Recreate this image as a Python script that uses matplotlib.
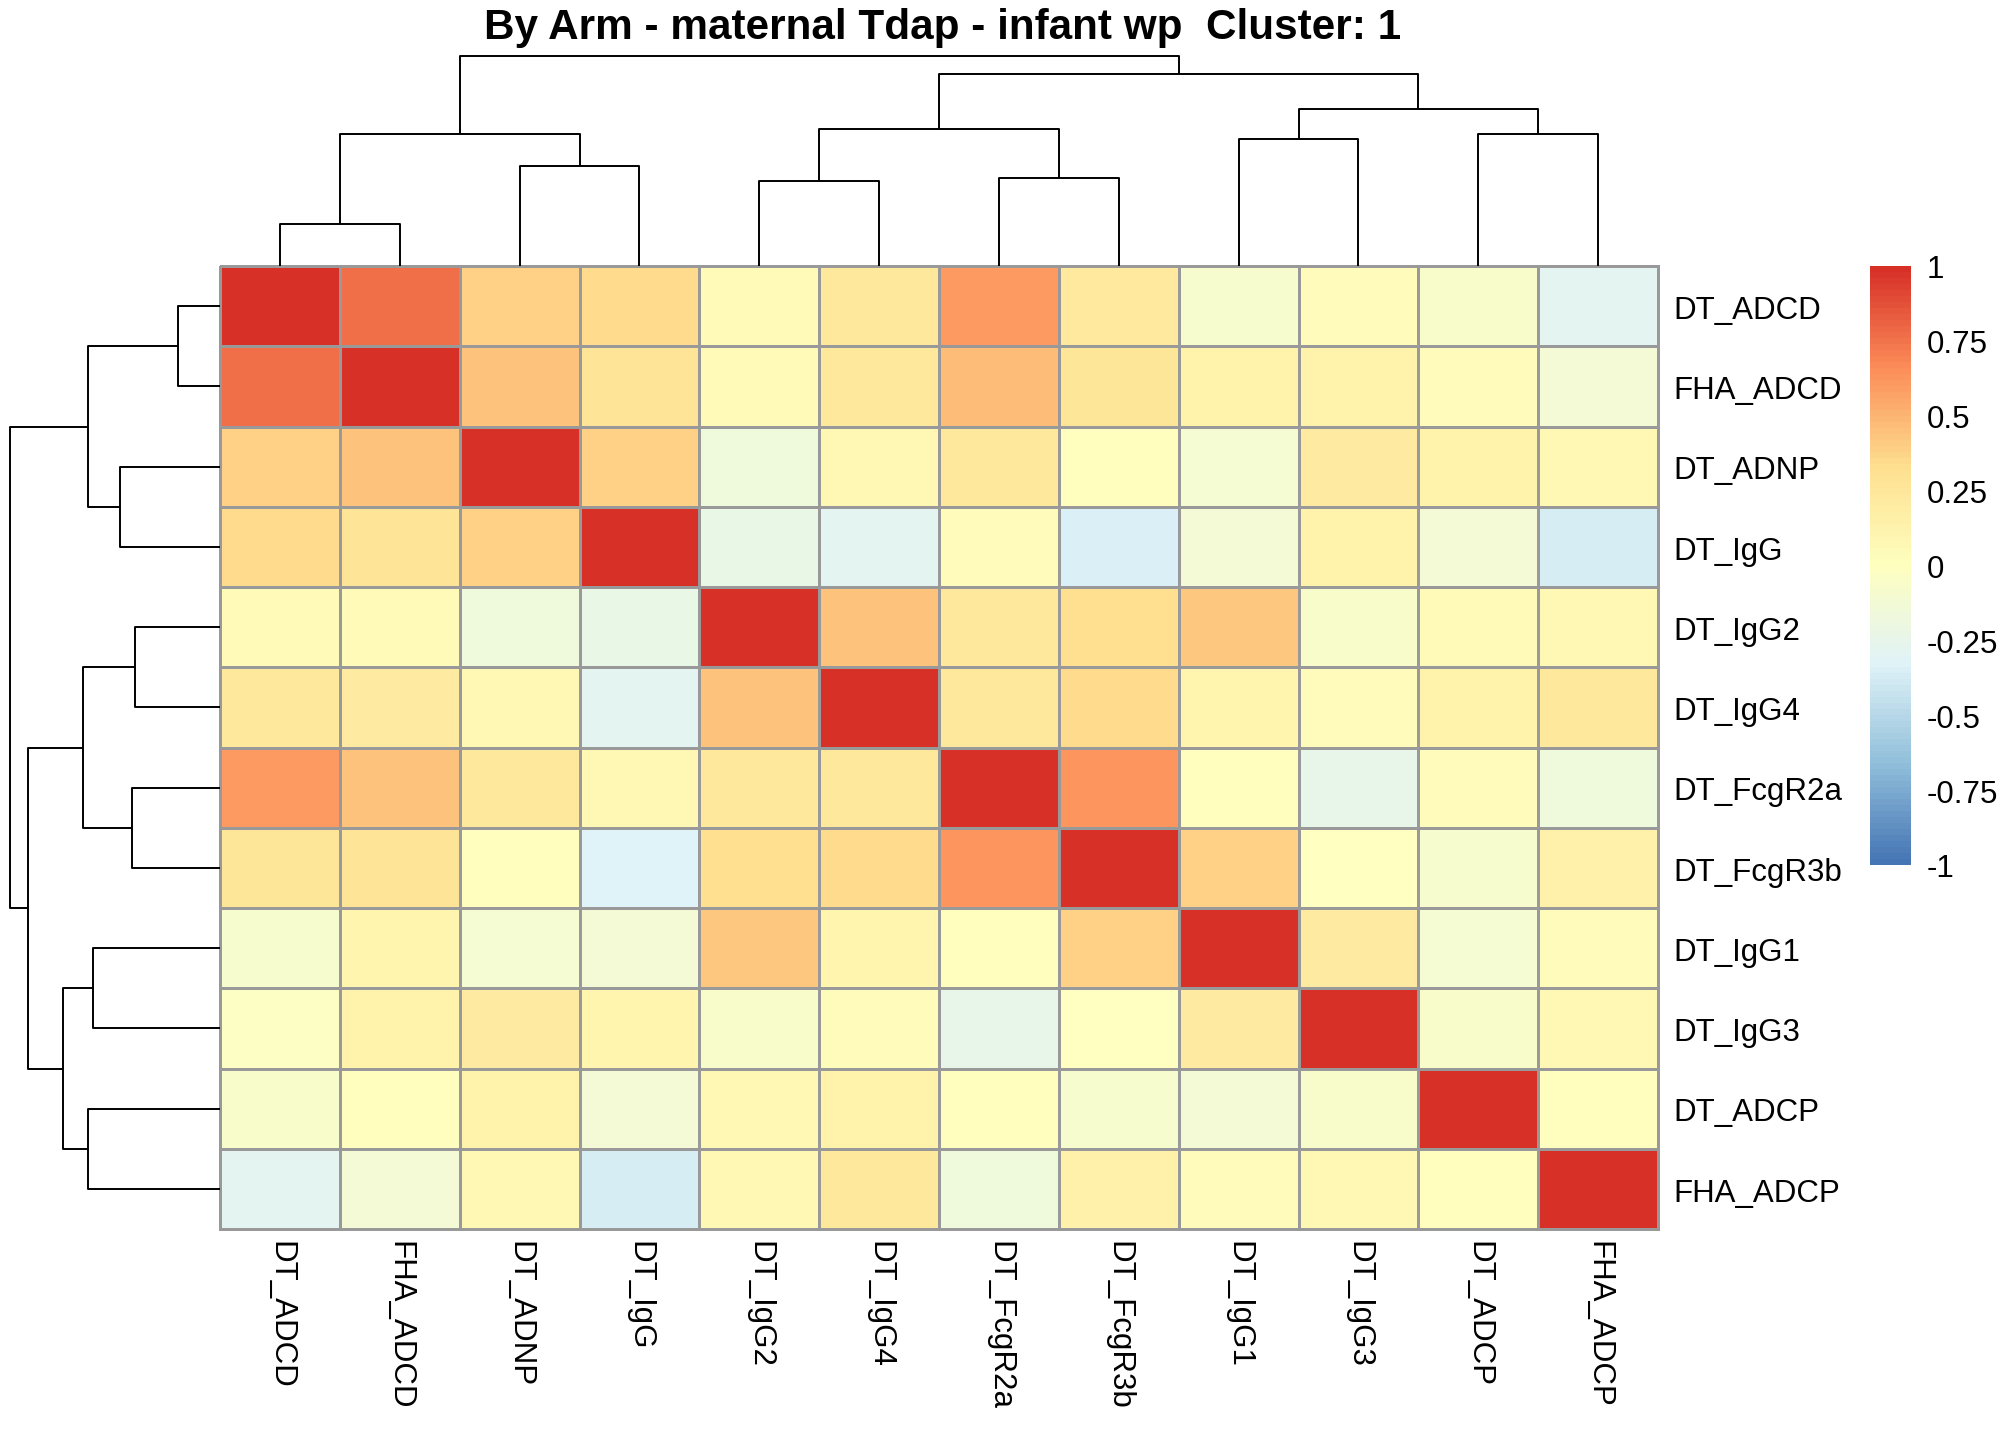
import numpy as np
import matplotlib
matplotlib.use("Agg")
import matplotlib.pyplot as plt
from matplotlib.colors import LinearSegmentedColormap

plt.rcParams['font.family'] = ['Liberation Sans', 'DejaVu Sans']

# ---------------- data ----------------
title = "By Arm - maternal Tdap - infant wp  Cluster: 1"
labels = ["DT_ADCD", "FHA_ADCD", "DT_ADNP", "DT_IgG", "DT_IgG2", "DT_IgG4",
          "DT_FcgR2a", "DT_FcgR3b", "DT_IgG1", "DT_IgG3", "DT_ADCP", "FHA_ADCP"]

row_DT_ADCD   = [1.00, 0.77, 0.39, 0.34, 0.05, 0.25, 0.61, 0.23, -0.10, 0.03, -0.08, -0.30]
row_FHA_ADCD  = [0.77, 1.00, 0.44, 0.28, 0.05, 0.25, 0.47, 0.26, 0.12, 0.12, 0.02, -0.13]
row_DT_ADNP   = [0.39, 0.44, 1.00, 0.39, -0.18, 0.06, 0.24, 0.01, -0.11, 0.20, 0.13, 0.07]
row_DT_IgG    = [0.34, 0.28, 0.39, 1.00, -0.23, -0.30, 0.03, -0.34, -0.14, 0.12, -0.14, -0.37]
row_DT_IgG2   = [0.05, 0.05, -0.18, -0.23, 1.00, 0.44, 0.24, 0.33, 0.42, -0.07, 0.05, 0.07]
row_DT_IgG4   = [0.24, 0.20, 0.06, -0.30, 0.44, 1.00, 0.24, 0.34, 0.10, 0.02, 0.12, 0.24]
row_DT_FcgR2a = [0.61, 0.45, 0.25, 0.06, 0.24, 0.24, 1.00, 0.62, 0.01, -0.25, 0.02, -0.17]
row_DT_FcgR3b = [0.27, 0.28, 0.01, -0.33, 0.33, 0.35, 0.62, 1.00, 0.39, -0.01, -0.10, 0.14]
row_DT_IgG1   = [-0.10, 0.10, -0.11, -0.13, 0.42, 0.10, 0.01, 0.39, 1.00, 0.20, -0.12, 0.03]
row_DT_IgG3   = [-0.04, 0.12, 0.20, 0.10, -0.08, 0.02, -0.25, -0.01, 0.20, 1.00, -0.08, 0.07]
row_DT_ADCP   = [-0.08, 0.01, 0.12, -0.14, 0.06, 0.13, 0.01, -0.10, -0.13, -0.08, 1.00, 0.01]
row_FHA_ADCP  = [-0.30, -0.14, 0.06, -0.37, 0.07, 0.24, -0.17, 0.14, 0.03, 0.07, 0.01, 1.00]

# hierarchical clustering merges (leaf indices 0..11, new nodes 12..)
merge_left   = [0, 4, 6, 2, 8, 12, 10, 13, 16, 19, 17]
merge_right  = [1, 5, 7, 3, 9, 15, 11, 14, 18, 20, 21]
merge_height = [0.42, 0.85, 0.88, 1.00, 1.27, 1.32, 1.32, 1.37, 1.57, 1.92, 2.10]

legend_values = [1, 0.75, 0.5, 0.25, 0, -0.25, -0.5, -0.75, -1]
legend_labels = ["1", "0.75", "0.5", "0.25", "0", "-0.25", "-0.5", "-0.75", "-1"]
palette = ["#4575B4", "#91BFDB", "#E0F3F8", "#FFFFBF", "#FEE090", "#FC8D59", "#D73027"]

# ---------------- plot ----------------
M = np.array([row_DT_ADCD, row_FHA_ADCD, row_DT_ADNP, row_DT_IgG, row_DT_IgG2,
              row_DT_IgG4, row_DT_FcgR2a, row_DT_FcgR3b, row_DT_IgG1, row_DT_IgG3,
              row_DT_ADCP, row_FHA_ADCP])
n = len(labels)
cmap = LinearSegmentedColormap.from_list("rdylbu", palette, N=100)

W, H = 2016, 1440
fig = plt.figure(figsize=(W / 100, H / 100), dpi=100)

def fx(px):
    return px / W

def fy(py):
    return 1 - py / H

hm_l, hm_r, hm_t, hm_b = 220, 1658, 266, 1229
ax = fig.add_axes([fx(hm_l), fy(hm_b), fx(hm_r - hm_l), (hm_b - hm_t) / H])
mesh = ax.pcolormesh(np.arange(n + 1), np.arange(n + 1), M, cmap=cmap, vmin=-1, vmax=1,
                     edgecolors="#999999", linewidth=2.0)
mesh.set_clip_on(False)
ax.set_xlim(0, n)
ax.set_ylim(n, 0)
ax.axis("off")

fs = 22.5
for i, lab in enumerate(labels):
    ax.text(n + 0.125, i + 0.56, lab, ha="left", va="center", fontsize=fs)
    ax.text(i + 0.5, n + 0.15, lab, rotation=-90, rotation_mode="anchor",
            ha="left", va="center", fontsize=fs)

# dendrogram segments
def dendro_segments(nleaf, left, right, height):
    pos = {i: i + 0.5 for i in range(nleaf)}
    hh = {i: 0.0 for i in range(nleaf)}
    segs = []
    for k, (a, b, h) in enumerate(zip(left, right, height)):
        node = nleaf + k
        segs.append(([pos[a], pos[a], pos[b], pos[b]], [hh[a], h, h, hh[b]]))
        pos[node] = (pos[a] + pos[b]) / 2
        hh[node] = h
    return segs

segs = dendro_segments(n, merge_left, merge_right, merge_height)
root = max(merge_height)

# top dendrogram
axt = fig.add_axes([fx(hm_l), fy(hm_t), fx(hm_r - hm_l), (hm_t - 56) / H])
for xs, ys in segs:
    axt.plot(xs, ys, color="black", lw=1.4, clip_on=False, solid_capstyle="butt")
axt.set_xlim(0, n)
axt.set_ylim(0, root)
axt.axis("off")

# left dendrogram
axl = fig.add_axes([fx(10), fy(hm_b), fx(hm_l - 10), (hm_b - hm_t) / H])
for xs, ys in segs:
    axl.plot(ys, xs, color="black", lw=1.4, clip_on=False, solid_capstyle="butt")
axl.set_xlim(root, 0)
axl.set_ylim(n, 0)
axl.axis("off")

# legend colour bar
cb_l, cb_r, cb_t, cb_b = 1870, 1910, 266, 865
cax = fig.add_axes([fx(cb_l), fy(cb_b), fx(cb_r - cb_l), (cb_b - cb_t) / H])
cax.imshow(np.linspace(-1, 1, 100).reshape(-1, 1), cmap=cmap, vmin=-1, vmax=1,
           origin="lower", extent=[0, 1, -1, 1], aspect="auto", interpolation="nearest")
cax.set_xlim(0, 1)
cax.set_ylim(-1, 1)
cax.axis("off")
for v, s in zip(legend_values, legend_labels):
    cax.text(1.42, v - 0.015, s, ha="left", va="center", fontsize=fs, clip_on=False)

fig.text(fx(943), fy(28), title, ha="center", va="center",
         fontsize=30.4, fontweight="bold")

fig.savefig("out.png", dpi=100)
